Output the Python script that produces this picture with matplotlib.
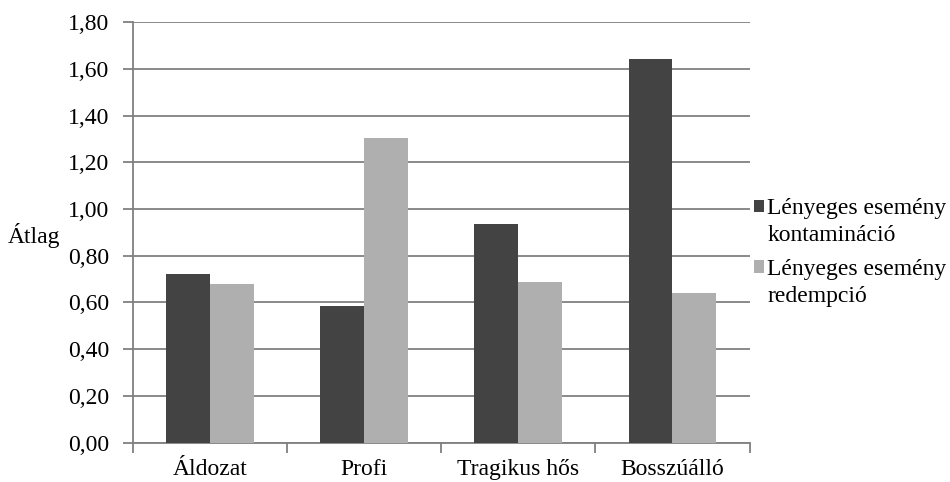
import numpy as np
import matplotlib.pyplot as plt
from matplotlib.patches import Rectangle
from matplotlib.legend_handler import HandlerPatch
from matplotlib.ticker import FixedLocator, FuncFormatter

plt.rcParams['font.family'] = ['Liberation Serif', 'DejaVu Serif']

categories = ['Áldozat', 'Profi', 'Tragikus hős', 'Bosszúálló']
kontaminacio = [0.72, 0.586, 0.938, 1.644]
redempcio = [0.68, 1.305, 0.687, 0.641]
series_labels = ['Lényeges esemény\nkontamináció', 'Lényeges esemény\nredempció']

dark = '#434343'
light = '#afafaf'
grey = '#808080'
fs = 17


def top_square(legend, orig_handle, xdescent, ydescent, width, height, fontsize):
    # put the legend square next to the first line of the label
    return Rectangle((-xdescent, -ydescent + 0.68 * fontsize), width, height)


fig = plt.figure(figsize=(9.5, 4.82), dpi=100)
ax = fig.add_axes([0.14, 0.0817, 0.649, 0.8723])

x = np.arange(len(categories))
w = 0.285
b1 = ax.bar(x - w / 2, kontaminacio, w, color=dark, label=series_labels[0], zorder=3)
b2 = ax.bar(x + w / 2, redempcio, w, color=light, label=series_labels[1], zorder=3)

ax.set_xlim(-0.5, len(categories) - 0.5)
ax.set_ylim(0, 1.8)
ax.set_yticks(np.arange(0, 1.81, 0.2))
ax.yaxis.set_major_formatter(FuncFormatter(lambda v, p: f'{v:.2f}'.replace('.', ',')))
ax.grid(axis='y', color=grey, linewidth=1.3, zorder=0)

ax.set_xticks(x)
ax.set_xticklabels(categories)
ax.xaxis.set_minor_locator(FixedLocator(np.arange(-0.5, len(categories), 1.0)))
ax.tick_params(axis='x', which='major', length=0, pad=12, labelsize=fs)
ax.tick_params(axis='x', which='minor', length=7, width=1.3, color=grey, direction='out')
ax.tick_params(axis='y', length=7, width=1.3, color=grey, direction='out', labelsize=fs, pad=10)

for side in ['top', 'right']:
    ax.spines[side].set_visible(False)
for side in ['left', 'bottom']:
    ax.spines[side].set_color(grey)
    ax.spines[side].set_linewidth(1.3)

fig.text(8 / 950, 1 - 235 / 482, 'Átlag', fontsize=fs, ha='left', va='center')

h1, h2 = b1.patches[0], b2.patches[0]
leg = ax.legend([h1, h2], series_labels,
                loc='center left', bbox_to_anchor=(1.008, 0.452), frameon=False, fontsize=fs,
                handlelength=0.42, handleheight=0.42, handletextpad=0.12, labelspacing=0.55,
                borderaxespad=0, borderpad=0,
                handler_map={h1: HandlerPatch(patch_func=top_square),
                             h2: HandlerPatch(patch_func=top_square)})
for t in leg.get_texts():
    t.set_linespacing(1.35)

fig.savefig('out.png', dpi=100)
